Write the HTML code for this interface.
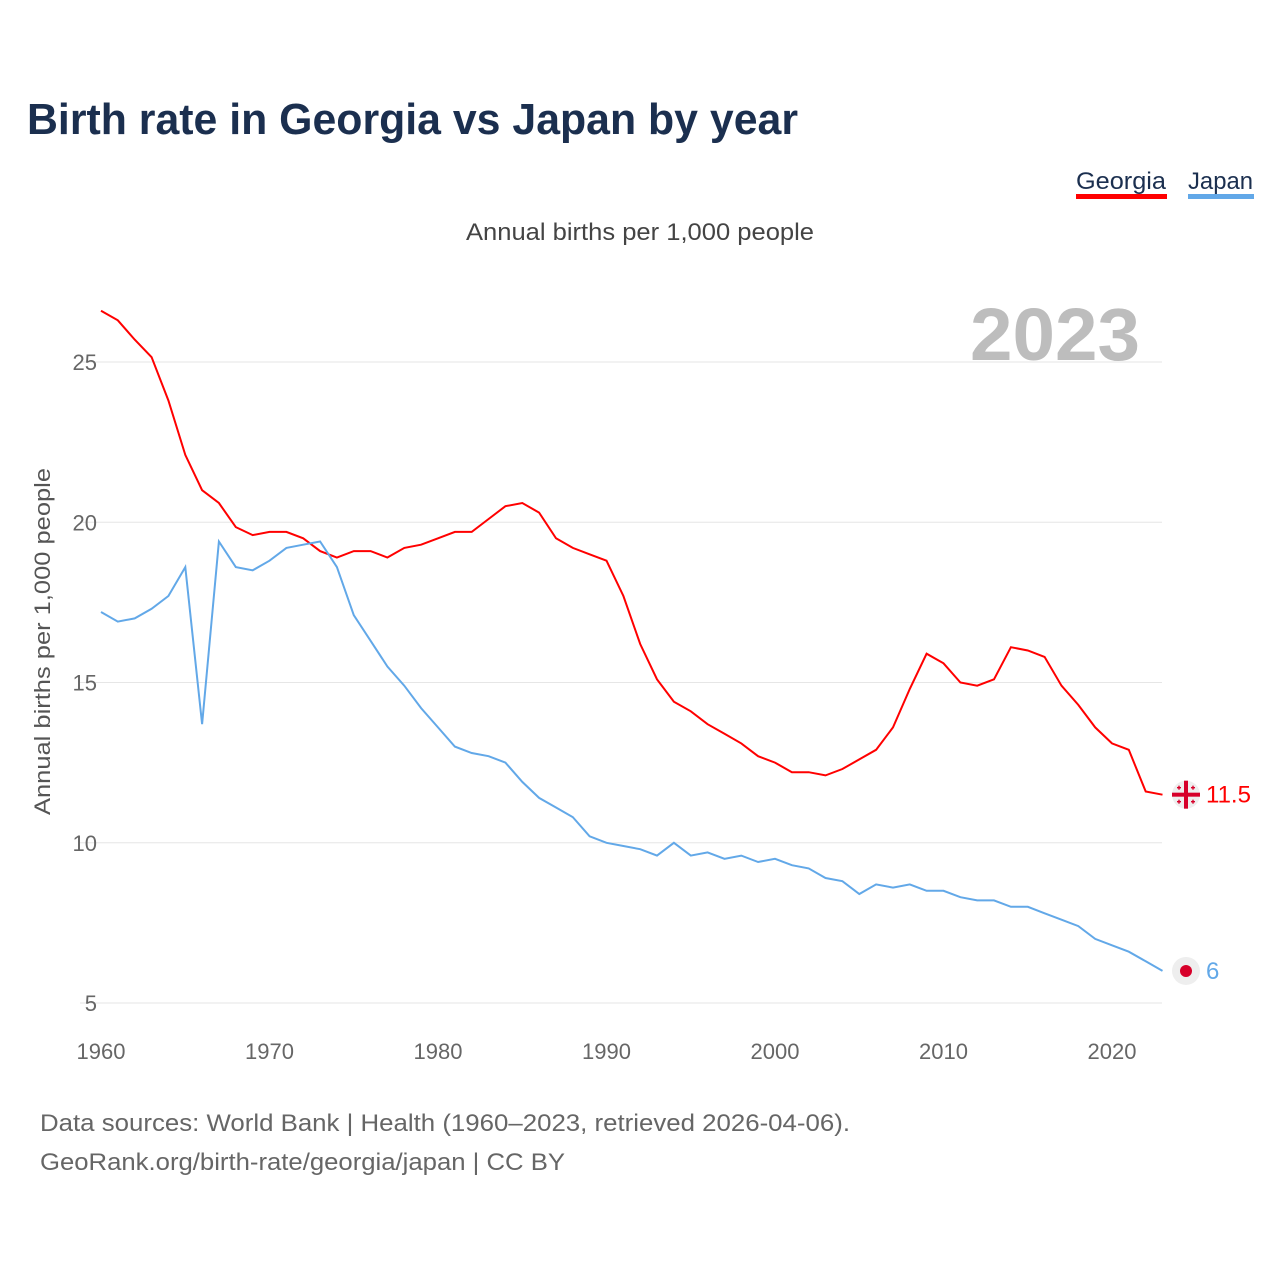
<!DOCTYPE html>
<html><head><meta charset="utf-8"><style>
body{margin:0;background:#fff;font-family:"Liberation Sans",sans-serif}
svg text{font-family:"Liberation Sans",sans-serif}
</style></head><body>
<svg width="1280" height="1280" xmlns="http://www.w3.org/2000/svg">
<text x="27" y="134" font-size="44" font-weight="bold" fill="#1b2f4f" textLength="771" lengthAdjust="spacingAndGlyphs">Birth rate in Georgia vs Japan by year</text>
<g><text x="1076" y="189" font-size="24" fill="#1b2f4f" textLength="90" lengthAdjust="spacingAndGlyphs">Georgia</text><rect x="1076" y="194" width="91" height="5" fill="#ff0000"/></g>
<g><text x="1188" y="189" font-size="24" fill="#1b2f4f" textLength="65" lengthAdjust="spacingAndGlyphs">Japan</text><rect x="1188" y="194" width="66" height="5" fill="#62a8e8"/></g>
<text x="466" y="240" font-size="24" fill="#444" textLength="348" lengthAdjust="spacingAndGlyphs">Annual births per 1,000 people</text>
<text x="970" y="360" font-size="74" font-weight="bold" fill="#bdbdbd" textLength="170" lengthAdjust="spacingAndGlyphs">2023</text>
<text transform="translate(50,815) rotate(-90)" font-size="22" fill="#555" textLength="347" lengthAdjust="spacingAndGlyphs">Annual births per 1,000 people</text>
<g id="grid"></g><g id="series"></g><g id="ends"></g>
<text x="40" y="1131" font-size="24" fill="#666" textLength="810" lengthAdjust="spacingAndGlyphs">Data sources: World Bank | Health (1960–2023, retrieved 2026-04-06).</text>
<text x="40" y="1170" font-size="24" fill="#666" textLength="525" lengthAdjust="spacingAndGlyphs">GeoRank.org/birth-rate/georgia/japan | CC BY</text>
</svg>
<script>
const years=[];for(let y=1960;y<=2023;y++)years.push(y);
const georgia=[26.6,26.3,25.7,25.15,23.8,22.1,21.0,20.6,19.85,19.6,19.7,19.7,19.5,19.1,18.9,19.1,19.1,18.9,19.2,19.3,19.5,19.7,19.7,20.1,20.5,20.6,20.3,19.5,19.2,19.0,18.8,17.7,16.2,15.1,14.4,14.1,13.7,13.4,13.1,12.7,12.5,12.2,12.2,12.1,12.3,12.6,12.9,13.6,14.8,15.9,15.6,15.0,14.9,15.1,16.1,16.0,15.8,14.9,14.3,13.6,13.1,12.9,11.6,11.5];
const japan=[17.2,16.9,17.0,17.3,17.7,18.6,13.7,19.4,18.6,18.5,18.8,19.2,19.3,19.4,18.6,17.1,16.3,15.5,14.9,14.2,13.6,13.0,12.8,12.7,12.5,11.9,11.4,11.1,10.8,10.2,10.0,9.9,9.8,9.6,10.0,9.6,9.7,9.5,9.6,9.4,9.5,9.3,9.2,8.9,8.8,8.4,8.7,8.6,8.7,8.5,8.5,8.3,8.2,8.2,8.0,8.0,7.8,7.6,7.4,7.0,6.8,6.6,6.3,6.0];
const yTicks=[5,10,15,20,25];
const xTicks=[1960,1970,1980,1990,2000,2010,2020];
const NS="http://www.w3.org/2000/svg";
const X=y=>101+(y-1960)*1011/60;
const Y=v=>362+(25-v)*32.05;
function mk(t,a,p){const e=document.createElementNS(NS,t);for(const k in a)e.setAttribute(k,a[k]);p.appendChild(e);return e;}
const g=document.getElementById('grid');
yTicks.forEach(v=>{
 const l=mk('line',{x1:80,x2:1162,y1:Y(v),y2:Y(v),stroke:'#e6e6e6','stroke-width':1},g);
 
 
 const t=mk('text',{x:97,y:Y(v)+8,'text-anchor':'end','font-size':22,fill:'#666'},g);t.textContent=v;
 
 
});
xTicks.forEach(v=>{
 const t=mk('text',{x:X(v),y:1059,'text-anchor':'middle','font-size':22,fill:'#666'},g);t.textContent=v;
 
 
});
const s=document.getElementById('series');
[[georgia,'#ff0000','georgia-line'],[japan,'#62a8e8','japan-line']].forEach(([d,c,n])=>{
 const p=mk('path',{d:d.map((v,i)=>(i?'L':'M')+X(years[i]).toFixed(1)+','+Y(v).toFixed(1)).join(''),fill:'none',stroke:c,'stroke-width':2},s);
 
 
});
const e=document.getElementById('ends');
const gl=georgia[georgia.length-1],jl=japan[japan.length-1];
const gy=Y(gl),jy=Y(jl);
const gf=mk('g',{},e);


mk('circle',{cx:1186,cy:gy,r:14,fill:'#eee'},gf);
mk('rect',{x:1184,y:gy-14,width:4,height:28,fill:'#d7002a'},gf);
mk('rect',{x:1172,y:gy-2,width:28,height:4,fill:'#d7002a'},gf);
[[-7,-7],[7,-7],[-7,7],[7,7]].forEach(([dx,dy])=>{mk('rect',{x:1186+dx-2,y:gy+dy-0.7,width:4,height:1.4,fill:'#d7002a'},gf);mk('rect',{x:1186+dx-0.7,y:gy+dy-2,width:1.4,height:4,fill:'#d7002a'},gf);});
const gt=mk('text',{x:1206,y:gy+8,'font-size':24,fill:'#ff0000'},e);gt.textContent=gl;


const jf=mk('g',{},e);


mk('circle',{cx:1186,cy:jy,r:14,fill:'#eee'},jf);
mk('circle',{cx:1186,cy:jy,r:6,fill:'#d7002a'},jf);
const jt=mk('text',{x:1206,y:jy+8,'font-size':24,fill:'#62a8e8'},e);jt.textContent=jl;


</script>
</body></html>
